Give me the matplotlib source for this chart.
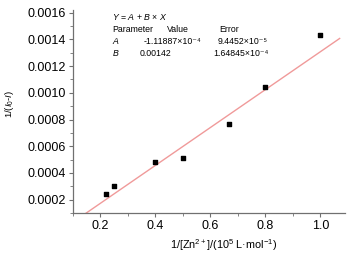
import numpy as np
import matplotlib
matplotlib.use("Agg")
import matplotlib.pyplot as plt
from matplotlib.ticker import MultipleLocator

plt.rcParams["font.family"] = ["Liberation Sans", "DejaVu Sans"]
plt.rcParams["mathtext.fontset"] = "custom"
plt.rcParams["mathtext.rm"] = "Liberation Sans"
plt.rcParams["mathtext.it"] = "Liberation Sans:italic"

# data
inv_zn = [0.222, 0.25, 0.40, 0.50, 0.667, 0.80, 1.00]
inv_dI = [0.00024, 0.000305, 0.000478, 0.000515, 0.000763, 0.00104, 0.00143]

# linear fit reported on the chart
fit_a = -1.11887e-4
fit_b = 0.00142

fig = plt.figure(figsize=(3.54, 2.59), dpi=100)
ax = fig.add_axes([0.206, 0.178, 0.769, 0.783])

xs = np.array([0.14, 1.07])
ax.plot(xs, fit_a + fit_b * xs, color="#f09a9a", lw=1.0, zorder=2)
ax.scatter(inv_zn, inv_dI, marker="s", s=12, color="black", zorder=3)

ax.set_xlim(0.1, 1.09)
ax.set_ylim(0.0001, 0.00162)
ax.xaxis.set_minor_locator(MultipleLocator(0.1))
ax.yaxis.set_minor_locator(MultipleLocator(0.0001))
ax.set_xticks([0.2, 0.4, 0.6, 0.8, 1.0])
ax.set_xticklabels(["0.2", "0.4", "0.6", "0.8", "1.0"])
ax.set_yticks([0.0002, 0.0004, 0.0006, 0.0008, 0.0010, 0.0012, 0.0014, 0.0016])
ax.set_yticklabels(["0.0002", "0.0004", "0.0006", "0.0008", "0.0010",
                    "0.0012", "0.0014", "0.0016"])

for side in ["top", "right"]:
    ax.spines[side].set_visible(False)
for side in ["left", "bottom"]:
    ax.spines[side].set_color("#707070")
    ax.spines[side].set_linewidth(0.9)
ax.tick_params(which="major", length=3, width=0.8, color="#707070",
               labelsize=9, pad=2)
ax.tick_params(which="minor", length=2, width=0.6, color="#707070")

# axis titles, placed where they sit in the original
fig.text(224 / 354, 1 - 245 / 259, "1/[Zn$^{2+}$]/(10$^{5}$ L·mol$^{-1}$)",
         fontsize=7.8, ha="center", va="center")
fig.text(10 / 354, 1 - 104 / 259, "1/($I_0$-$I$)", fontsize=6.8,
         ha="center", va="center", rotation=90)

# fit result table
fs = 6.3
rows_y = [16, 29, 41, 53]


def put(px, py, s):
    fig.text(px / 354, 1 - py / 259, s, fontsize=fs, va="center", ha="left")


put(112, rows_y[0], "$Y$ = $A$ + $B$ × $X$")
put(112, rows_y[1], "Parameter")
put(167, rows_y[1], "Value")
put(219, rows_y[1], "Error")
put(112, rows_y[2], "$A$")
put(144, rows_y[2], "-1.11887×10⁻⁴")
put(218, rows_y[2], "9.4452×10⁻⁵")
put(112, rows_y[3], "$B$")
put(140, rows_y[3], "0.00142")
put(213, rows_y[3], "1.64845×10⁻⁴")

fig.savefig("out.png", dpi=100)
